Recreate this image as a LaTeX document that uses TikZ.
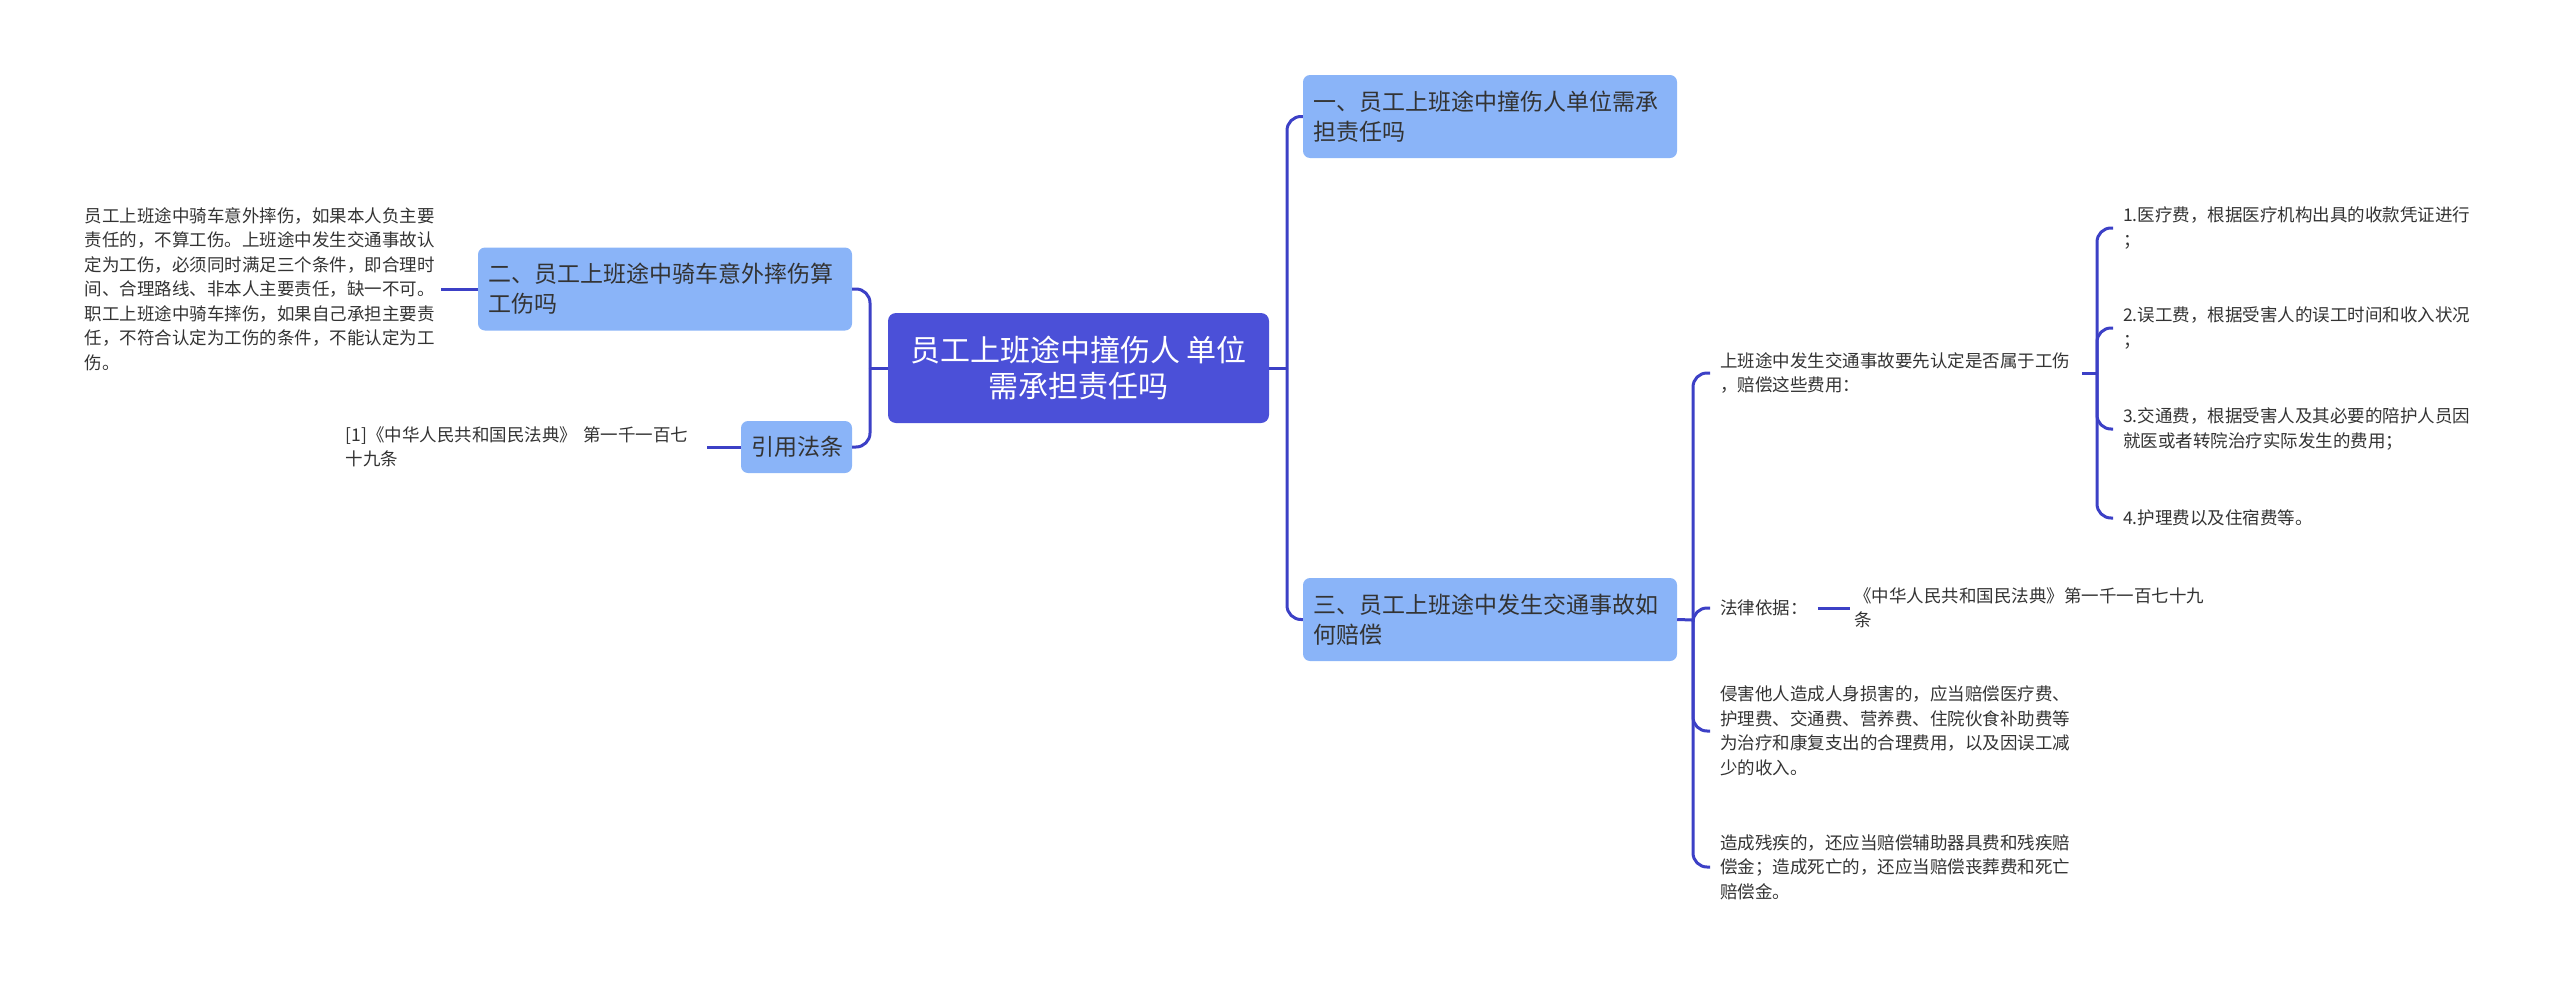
\documentclass[tikz,border=0pt]{standalone}
\usepackage{fontspec}
\setmainfont{Noto Sans CJK SC}
\definecolor{rootc}{HTML}{4B50D8}
\definecolor{branchc}{HTML}{8AB4F8}
\definecolor{linec}{HTML}{3C40C6}
\definecolor{txt}{HTML}{333333}
\begin{document}
\begin{tikzpicture}[x=1pt,y=-1pt,
  conn/.style={draw=linec,line width=3pt,rounded corners=14pt},
  rootbox/.style={fill=rootc,rounded corners=8pt,text=white,font=\fontsize{30}{36}\selectfont,align=center,minimum width=381pt,minimum height=110pt,inner sep=0pt},
  branchbox/.style={fill=branchc,rounded corners=7pt,text=txt,font=\fontsize{23}{30}\selectfont,align=left,text width=354pt,inner xsep=10pt,inner ysep=0pt,minimum height=83pt},
  leaf/.style={text=txt,font=\fontsize{17.5}{24.5}\selectfont,align=left,inner ysep=0pt,inner xsep=10pt},
]
\useasboundingbox (0,0) rectangle (2560,985);

\node[rootbox] (root) at (1078.5,368) {员工上班途中撞伤人 单位\\需承担责任吗};
\node[branchbox] (b1) at (1490,116.5) {一、员工上班途中撞伤人单位需承\\担责任吗};
\node[branchbox] (b3) at (1490,619.5) {三、员工上班途中发生交通事故如\\何赔偿};
\node[branchbox] (b2) at (665,289) {二、员工上班途中骑车意外摔伤算\\工伤吗};
\node[branchbox,text width=91pt,align=center,minimum height=52pt] (b4) at (796.5,447) {引用法条};

\node[leaf,inner xsep=0pt,text width=356pt,anchor=east] (l1) at (441,289) {员工上班途中骑车意外摔伤，如果本人负主要\\责任的，不算工伤。上班途中发生交通事故认\\定为工伤，必须同时满足三个条件，即合理时\\间、合理路线、非本人主要责任，缺一不可。\\职工上班途中骑车摔伤，如果自己承担主要责\\任，不符合认定为工伤的条件，不能认定为工\\伤。};
\node[leaf,inner xsep=0pt,text width=361pt,anchor=east] (l2) at (707,447) {[1]《中华人民共和国民法典》 第一千一百七\\十九条};

\node[leaf,text width=352pt,anchor=west] (c1) at (1710,373) {上班途中发生交通事故要先认定是否属于工伤\\，赔偿这些费用：};
\node[leaf,anchor=west] (c2) at (1710,608) {法律依据：};
\node[leaf,inner xsep=4pt,text width=360pt,anchor=west] (c2a) at (1850,608) {《中华人民共和国民法典》第一千一百七十九\\条};
\node[leaf,text width=360pt,anchor=west] (c3) at (1710,731) {侵害他人造成人身损害的，应当赔偿医疗费、\\护理费、交通费、营养费、住院伙食补助费等\\为治疗和康复支出的合理费用，以及因误工减\\少的收入。};
\node[leaf,text width=360pt,anchor=west] (c4) at (1710,867) {造成残疾的，还应当赔偿辅助器具费和残疾赔\\偿金；造成死亡的，还应当赔偿丧葬费和死亡\\赔偿金。};

\node[leaf,text width=370pt,anchor=west] (i1) at (2113,228) {1.医疗费，根据医疗机构出具的收款凭证进行\\；};
\node[leaf,text width=370pt,anchor=west] (i2) at (2113,328) {2.误工费，根据受害人的误工时间和收入状况\\；};
\node[leaf,text width=370pt,anchor=west] (i3) at (2113,429) {3.交通费，根据受害人及其必要的陪护人员因\\就医或者转院治疗实际发生的费用；};
\node[leaf,text width=370pt,anchor=west] (i4) at (2113,518) {4.护理费以及住宿费等。};

\coordinate (jl) at (870,368);
\coordinate (jr) at (1287,368);
\coordinate (j3) at (1693,620);
\coordinate (ji) at (2097,373);

\draw[conn] (root.west) -- (jl);
\draw[conn] (b2.east) -| (jl);
\draw[conn] (b4.east) -| (jl);
\draw[conn] (root.east) -- (jr);
\draw[conn] (b1.west) -| (jr);
\draw[conn] (b3.west) -| (jr);
\draw[conn] (b2.west) -- (l1.east);
\draw[conn] (b4.west) -- (l2.east);
\draw[conn] (b3.east) -- (j3);
\draw[conn] (c1.west) -| (j3);
\draw[conn] (c2.west) -| (j3);
\draw[conn] (c3.west) -| (j3);
\draw[conn] (c4.west) -| (j3);
\draw[conn] (c2.east) -- (c2a.west);
\draw[conn] (c1.east) -- (ji);
\draw[conn] (i1.west) -| (ji);
\draw[conn] (i2.west) -| (ji);
\draw[conn] (i3.west) -| (ji);
\draw[conn] (i4.west) -| (ji);
\end{tikzpicture}
\end{document}
